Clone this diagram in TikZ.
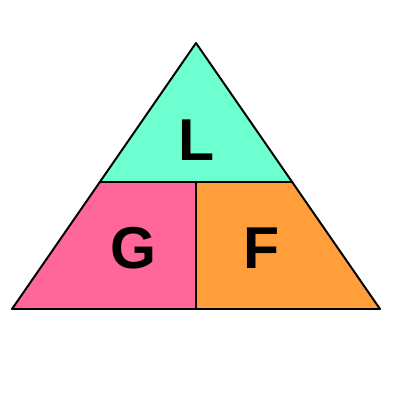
\documentclass[tikz,border=0pt]{standalone}
\usepackage{fontspec}
\setmainfont{Liberation Sans}
\definecolor{topcol}{RGB}{110,255,208}
\definecolor{leftcol}{RGB}{255,102,153}
\definecolor{rightcol}{RGB}{255,158,58}
\tikzset{letter/.style={font=\fontsize{42}{44}\selectfont\bfseries, inner sep=0pt}}
\begin{document}
\begin{tikzpicture}[x=0.025cm, y=-0.025cm, line join=round, line cap=round]
				\useasboundingbox (0,0) rectangle (400,400);
				\coordinate (S) at (196,43);
				\coordinate (A) at (12,309);
				\coordinate (B) at (380,309);
				\coordinate (P) at (100,182);
				\coordinate (Q) at (292,182);
				\coordinate (M) at (196,182);
				\coordinate (N) at (196,309);
				\fill[topcol] (S) -- (P) -- (Q) -- cycle;
				\fill[leftcol] (P) -- (M) -- (N) -- (A) -- cycle;
				\fill[rightcol] (M) -- (Q) -- (B) -- (N) -- cycle;
				\draw[line width=1.4pt] (S) -- (A) -- (B) -- cycle;
				\draw[line width=1.4pt] (P) -- (Q);
				\draw[line width=1.4pt] (M) -- (N);
				\node[letter] (L) at (197,140) {L};
				\node[letter] (G) at (133,248) {G};
				\node[letter] (F) at (262,248) {F};
			\end{tikzpicture}
\end{document}
